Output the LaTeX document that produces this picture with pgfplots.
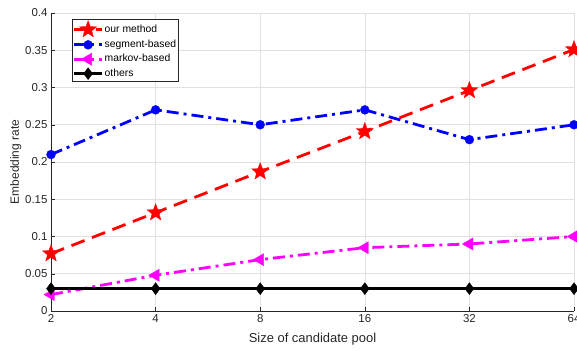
\documentclass[border=0pt]{standalone}
\usepackage{pgfplots}
\pgfplotsset{compat=1.18}
\usepackage{fontspec}
\setmainfont{Liberation Sans}
\definecolor{txt}{RGB}{38,38,38}
\definecolor{gridc}{RGB}{225,225,225}
\definecolor{mag}{RGB}{255,0,255}
\pgfdeclareplotmark{pentagram}{%
  \pgfpathmoveto{\pgfpointpolar{90}{1.0\pgfplotmarksize}}%
  \pgfpathlineto{\pgfpointpolar{126}{0.42\pgfplotmarksize}}%
  \pgfpathlineto{\pgfpointpolar{162}{1.0\pgfplotmarksize}}%
  \pgfpathlineto{\pgfpointpolar{198}{0.42\pgfplotmarksize}}%
  \pgfpathlineto{\pgfpointpolar{234}{1.0\pgfplotmarksize}}%
  \pgfpathlineto{\pgfpointpolar{270}{0.42\pgfplotmarksize}}%
  \pgfpathlineto{\pgfpointpolar{306}{1.0\pgfplotmarksize}}%
  \pgfpathlineto{\pgfpointpolar{342}{0.42\pgfplotmarksize}}%
  \pgfpathlineto{\pgfpointpolar{18}{1.0\pgfplotmarksize}}%
  \pgfpathlineto{\pgfpointpolar{54}{0.42\pgfplotmarksize}}%
  \pgfpathclose\pgfusepathqfillstroke}
\begin{document}
\begin{tikzpicture}
\begin{axis}[
  scale only axis, width=523bp, height=298bp,
  xmin=0, xmax=5, ymin=0, ymax=0.4,
  xtick={0,1,2,3,4,5}, xticklabels={2,4,8,16,32,64},
  ytick={0,0.05,0.1,0.15,0.2,0.25,0.3,0.35,0.4},
  yticklabels={0,0.05,0.1,0.15,0.2,0.25,0.3,0.35,0.4},
  axis x line*=bottom, axis y line*=left,
  axis line style={txt, line width=0.6pt},
  tick align=inside, major tick length=4bp, tick style={txt, line width=0.5pt},
  grid=major, grid style={gridc, line width=0.6pt},
  ticklabel style={font=\fontsize{11.5}{13}\selectfont, text=txt},
  /pgf/number format/assume math mode=true,
  xlabel={Size of candidate pool}, ylabel={Embedding rate},
  xlabel style={font=\fontsize{13}{15}\selectfont, text=txt, yshift=-4bp},
  ylabel style={font=\fontsize{12}{14}\selectfont, text=txt, yshift=-3bp},
  legend style={at={(rel axis cs:0,1)}, anchor=north west, xshift=20.5bp, yshift=-6.3bp,
    font=\fontsize{10.4}{11}\selectfont, draw=txt, line width=0.6pt, fill=white,
    row sep=1.5bp, inner sep=1bp, text=black,
    nodes={inner sep=1.2bp, text height=8bp, text depth=2.5bp}},
  legend cell align=left,
  legend image code/.code={\draw[#1] (0cm,0cm) -- (0.98cm,0cm); \path[#1, solid] plot coordinates {(0.49cm,0cm)};},
  clip=false,
]
\coordinate (ll) at (rel axis cs:0,0);
\coordinate (ur) at (rel axis cs:1,1);
\addplot[red, line width=2.8pt, dash pattern=on 14bp off 8bp, mark=pentagram, mark size=9bp, mark options={solid, fill=red, line width=0.3pt}]
  coordinates {(0,0.077)(1,0.132)(2,0.187)(3,0.241)(4,0.296)(5,0.351)};
\addlegendentry{our method}
\addplot[blue, line width=2.8pt, dash pattern=on 12bp off 5bp on 3bp off 5bp, mark=*, mark size=4.5bp, mark options={solid, fill=blue, line width=0.3pt}]
  coordinates {(0,0.21)(1,0.27)(2,0.25)(3,0.27)(4,0.23)(5,0.25)};
\addlegendentry{segment-based}
\addplot[mag, line width=2.8pt, dash pattern=on 12bp off 5bp on 3bp off 5bp, mark=triangle*, mark size=7bp, mark options={solid, fill=mag, rotate=90, line width=0.3pt}]
  coordinates {(0,0.022)(1,0.048)(2,0.069)(3,0.085)(4,0.090)(5,0.100)};
\addlegendentry{markov-based}
\addplot[black, line width=2.9pt, mark=diamond*, mark size=6bp, mark options={solid, fill=black, line width=0.3pt}]
  coordinates {(0,0.030)(1,0.030)(2,0.030)(3,0.030)(4,0.030)(5,0.030)};
\addlegendentry{others}
\end{axis}
\pgfresetboundingbox
\path[use as bounding box] ([shift={(-51bp,-40bp)}]ll) rectangle ([shift={(3bp,13bp)}]ur);
\end{tikzpicture}
\end{document}
